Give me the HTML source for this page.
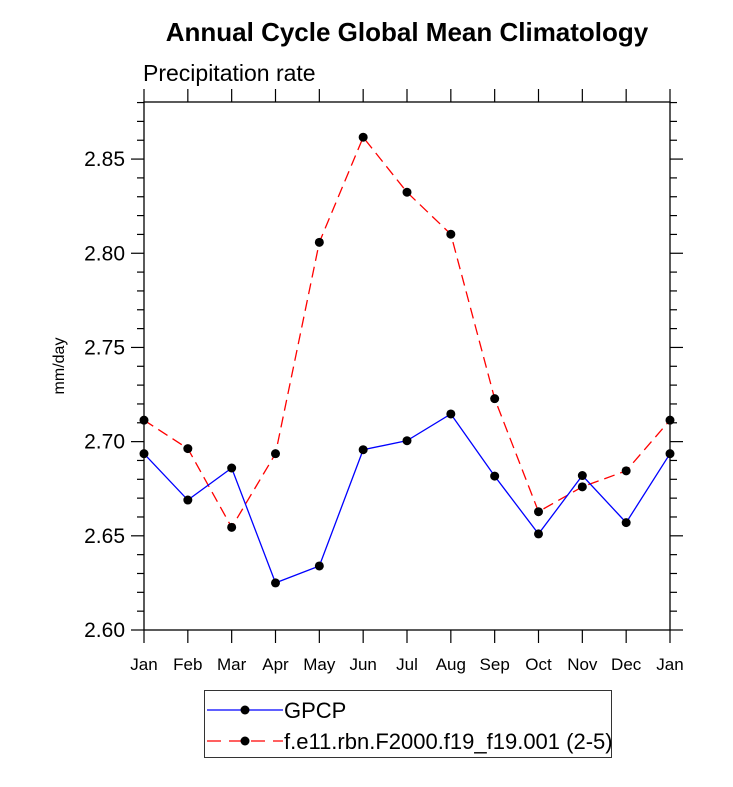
<!DOCTYPE html>
<html><head><meta charset="utf-8"><style>
body{margin:0;background:#fff;width:733px;height:782px;overflow:hidden}
svg{font-family:"Liberation Sans",sans-serif}
</style></head><body>
<svg id="chart" width="733" height="782" xmlns="http://www.w3.org/2000/svg">
<text x="407" y="41" text-anchor="middle" font-size="26" font-weight="bold">Annual Cycle Global Mean Climatology</text>
<text x="143" y="81" font-size="23">Precipitation rate</text>
<text transform="translate(64,366) rotate(-90)" text-anchor="middle" font-size="16">mm/day</text>
<g id="axes"></g>
<g id="series"></g>
<g>
<rect x="204.5" y="690.5" width="407" height="67" fill="#fff" stroke="#333"/>
<g>
<line x1="207" y1="710" x2="283" y2="710" stroke="#0000ff" stroke-width="1.3"/>
<circle cx="245" cy="710" r="4.5" fill="#000"/>
<text x="284" y="718" font-size="22">GPCP</text></g>
<g>
<line x1="207" y1="741" x2="283" y2="741" stroke="#ff0000" stroke-width="1.3" stroke-dasharray="14,8"/>
<circle cx="245" cy="741" r="4.5" fill="#000"/>
<text x="284" y="749" font-size="22">f.e11.rbn.F2000.f19_f19.001 (2-5)</text></g>
</g>
</svg>
<script>
const months=["Jan","Feb","Mar","Apr","May","Jun","Jul","Aug","Sep","Oct","Nov","Dec","Jan"];
const gpcp=[2.6936,2.669,2.686,2.625,2.634,2.6957,2.7005,2.7147,2.6817,2.651,2.682,2.657,2.6936];
const model=[2.7114,2.6963,2.6545,2.6936,2.8058,2.8616,2.8324,2.8101,2.7228,2.6628,2.676,2.6845,2.7114];
const yTicks=["2.60","2.65","2.70","2.75","2.80","2.85"];
const L=144,R=670,T=102,B=630,Y0=2.60,Y1=2.8803;
const xs=i=>L+(R-L)*i/(months.length-1);
const ys=v=>B-(v-Y0)/(Y1-Y0)*(B-T);
const NS="http://www.w3.org/2000/svg";
function mk(tag,attrs,parent){const e=document.createElementNS(NS,tag);for(const k in attrs)e.setAttribute(k,attrs[k]);parent.appendChild(e);return e;}
const ax=document.getElementById('axes');
const frame=mk('rect',{x:L,y:T,width:R-L,height:B-T,fill:'none',stroke:'#000','stroke-width':1.3},ax);


months.forEach((m,i)=>{const x=xs(i);
 mk('line',{x1:x,y1:B,x2:x,y2:B+13,stroke:'#000','stroke-width':1.2},ax);
 mk('line',{x1:x,y1:T,x2:x,y2:T-13,stroke:'#000','stroke-width':1.2},ax);
 const t=mk('text',{x:x,y:670,'text-anchor':'middle','font-size':17},ax);t.textContent=m;
 
 
});
for(let k=0;k<=28;k++){const v=Y0+k*0.01;const y=ys(v);if(y<T-0.5)break;
 const major=k%5===0;const len=major?13:7;
 mk('line',{x1:L,y1:y,x2:L-len,y2:y,stroke:'#000','stroke-width':1.2},ax);
 mk('line',{x1:R,y1:y,x2:R+len,y2:y,stroke:'#000','stroke-width':1.2},ax);
}
yTicks.forEach(s=>{const y=ys(parseFloat(s));
 const t=mk('text',{x:125,y:y+7,'text-anchor':'end','font-size':21},ax);t.textContent=s;
 
 
});
const sg=document.getElementById('series');
function draw(vals,color,dash,name){
 const g=mk('g',{},sg);
 
 
 const p=mk('polyline',{points:vals.map((v,i)=>xs(i)+','+ys(v)).join(' '),fill:'none',stroke:color,'stroke-width':1.3},g);
 if(dash)p.setAttribute('stroke-dasharray',dash);
 vals.forEach((v,i)=>{const c=mk('circle',{cx:xs(i),cy:ys(v),r:4.5,fill:'#000'},g);
  
  });
}
draw(model,'#ff0000','11,6','series-model');
draw(gpcp,'#0000ff',null,'series-gpcp');
</script>
</body></html>
